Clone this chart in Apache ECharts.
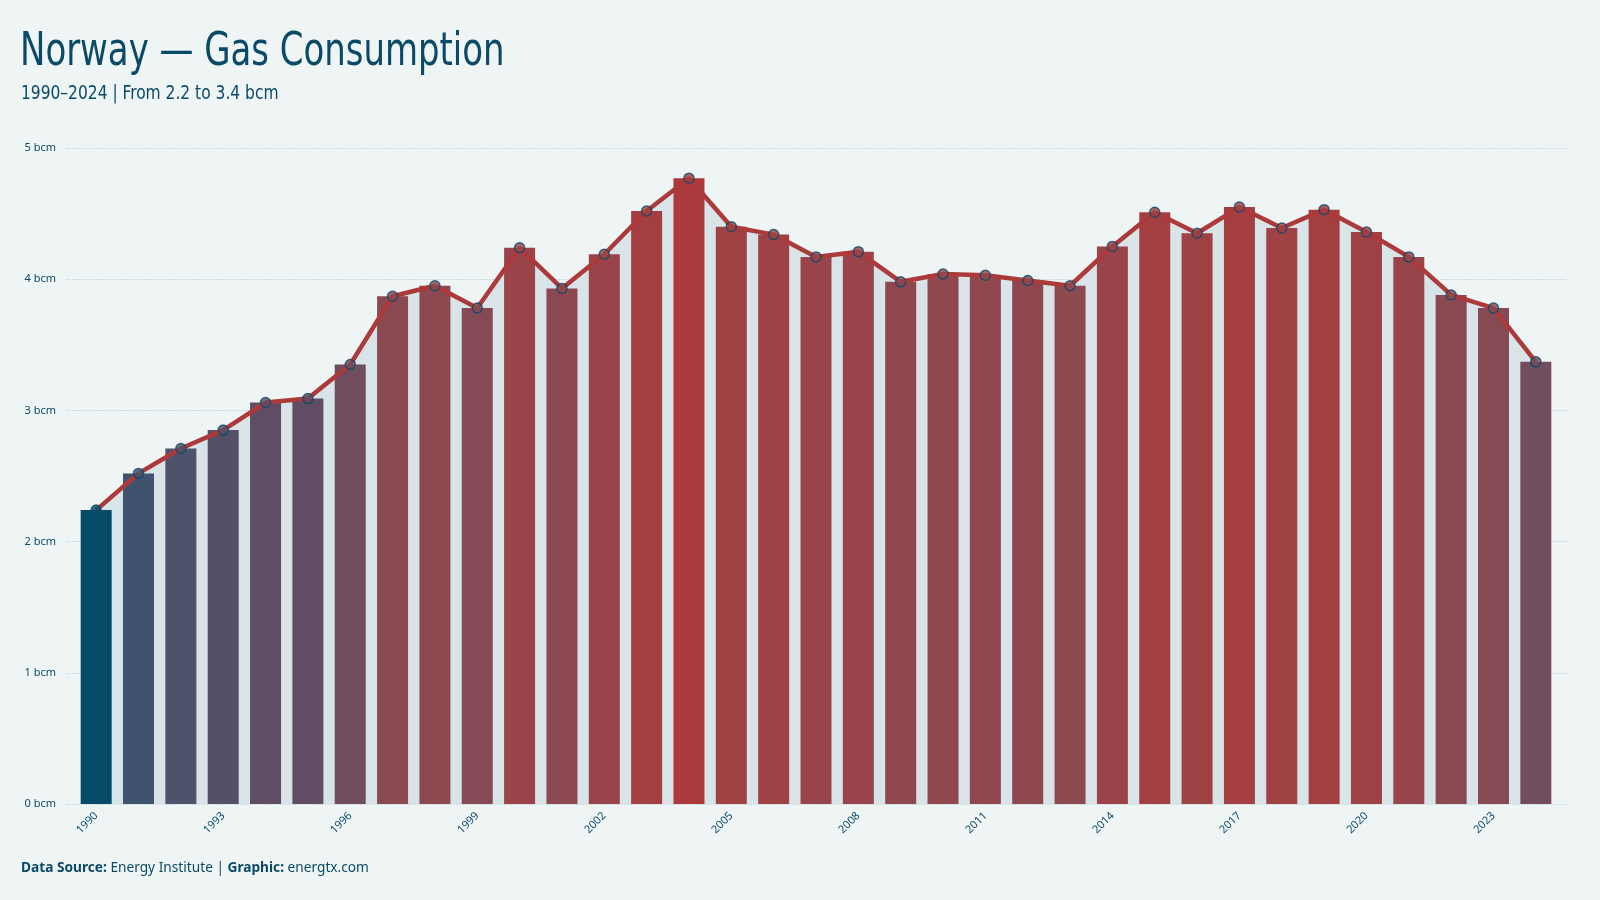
<!DOCTYPE html>
<html>
<head>
<meta charset="utf-8">
<title>Norway — Gas Consumption</title>
<script src="https://cdn.jsdelivr.net/npm/echarts@6/dist/echarts.min.js"></script>
<style>
  html, body { margin: 0; padding: 0; background: #eff5f5; }
  #chart { width: 1600px; height: 900px; }
</style>
</head>
<body>
<div id="chart"></div>
<script>
// years and consumption (bcm)
const years = ["1990","1991","1992","1993","1994","1995","1996","1997","1998","1999",
  "2000","2001","2002","2003","2004","2005","2006","2007","2008","2009",
  "2010","2011","2012","2013","2014","2015","2016","2017","2018","2019",
  "2020","2021","2022","2023","2024"];
const gas = [2.24, 2.52, 2.71, 2.85, 3.06, 3.09, 3.35, 3.87, 3.95, 3.78,
  4.24, 3.93, 4.19, 4.52, 4.77, 4.40, 4.34, 4.17, 4.21, 3.98,
  4.04, 4.03, 3.99, 3.95, 4.25, 4.51, 4.35, 4.55, 4.39, 4.53,
  4.36, 4.17, 3.88, 3.78, 3.37];
const yTicks = [0, 1, 2, 3, 4, 5];

const navy = "#0b4a66";
const red = "#ad3a3b";
const condensed = "Ubuntu Condensed, DejaVu Sans Condensed, Liberation Sans Narrow";

let chart = echarts.init(document.getElementById("chart"));
chart.setOption({
  backgroundColor: "#eff5f5",
  textStyle: { fontFamily: "Noto Sans" },
  graphic: [
    {
      type: "text",
      x: 20,
      y: 30,
      scaleX: 0.82,
      style: {
        text: "Norway — Gas Consumption",
        fontFamily: condensed,
        fontSize: 46,
        fill: navy,
      },
    },
    {
      type: "text",
      x: 21,
      y: 84,
      scaleX: 0.86,
      style: {
        text: "1990–2024 | From 2.2 to 3.4 bcm",
        fontFamily: condensed,
        fontSize: 20,
        fill: navy,
      },
    },
    {
      type: "text",
      left: 21,
      top: 861,
      style: {
        text: "{b|Data Source:} Energy Institute | {b|Graphic:} energtx.com",
        fontFamily: "Noto Sans",
        fontSize: 13.7,
        fill: navy,
        rich: {
          b: { fontWeight: "bold", fontSize: 13.7, fontFamily: "Noto Sans", fill: navy },
        },
      },
    },
  ],
  grid: [
    // plot area for bars and line
    { left: 75, right: 43, top: 148, bottom: 96 },
    // slightly wider area, only for the gridlines
    { left: 66, right: 33, top: 148, bottom: 96 },
  ],
  visualMap: {
    show: false,
    type: "continuous",
    seriesIndex: [1, 3],
    min: Math.min(...gas),
    max: Math.max(...gas),
    inRange: {
      color: ["#054a66", "#48546f", "#564f67", "#654c61", "#7a4d5a",
        "#874a52", "#96454c", "#a24042", "#ac3a3c"],
    },
  },
  xAxis: [
    {
      type: "category",
      data: years,
      axisLine: { show: false },
      axisTick: { show: false },
      axisLabel: {
        interval: 2,
        rotate: 45,
        fontSize: 11,
        color: navy,
        margin: 10,
      },
    },
    { type: "value", gridIndex: 1, show: false, min: 0, max: 1 },
  ],
  yAxis: [
    {
      type: "value",
      min: yTicks[0],
      max: yTicks[yTicks.length - 1],
      interval: 1,
      axisLine: { show: false },
      axisTick: { show: false },
      axisLabel: {
        formatter: (v) => v + " bcm",
        fontSize: 11,
        color: navy,
        margin: 19,
      },
      splitLine: { show: false },
    },
    {
      type: "value",
      gridIndex: 1,
      min: yTicks[0],
      max: yTicks[yTicks.length - 1],
      interval: 1,
      axisLine: { show: false },
      axisTick: { show: false },
      axisLabel: { show: false },
      splitLine: {
        lineStyle: { color: "#cddcde", type: [2, 1], width: 1 },
      },
    },
  ],
  series: [
    {
      // light fill under the line, kept behind the bars
      type: "line",
      data: gas,
      symbol: "none",
      lineStyle: { width: 0 },
      areaStyle: { color: "#d8e4e8", opacity: 1 },
      z: 1,
      silent: true,
    },
    {
      type: "bar",
      data: gas,
      barWidth: 31,
      z: 2,
    },
    {
      type: "line",
      data: gas,
      symbol: "none",
      lineStyle: { color: red, width: 4.5 },
      z: 3,
    },
    {
      type: "scatter",
      data: gas,
      symbol: "circle",
      symbolSize: 10,
      itemStyle: { borderColor: navy, borderWidth: 1.5 },
      z: 4,
    },
  ],
});
</script>
</body>
</html>
